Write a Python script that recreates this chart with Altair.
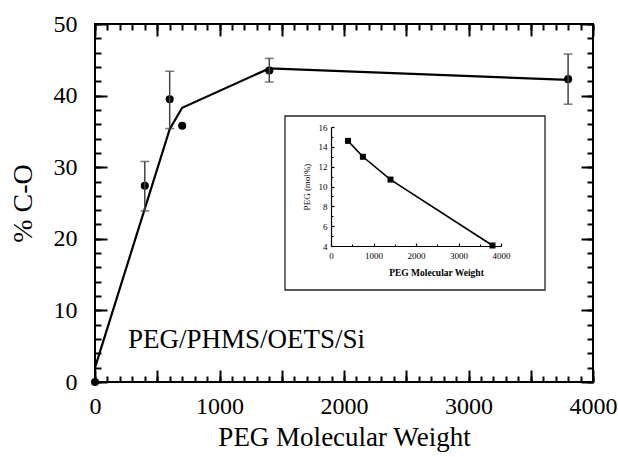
import altair as alt
import pandas as pd

# ---------------- data ----------------
mw_points = [0, 400, 600, 700, 1400, 3800]
co_points = [0.0, 27.4, 39.5, 35.8, 43.5, 42.3]

err_mw = [400, 600, 1400, 3800]
err_lo = [23.9, 35.4, 41.9, 38.8]
err_hi = [30.8, 43.4, 45.2, 45.8]

fit_mw = [0, 600, 700, 1400, 3800]
fit_co = [2.0, 35.3, 38.3, 43.8, 42.2]

inset_mw = [400, 750, 1400, 3800]
inset_peg = [14.6, 13.0, 10.7, 4.05]

x_labels = [0, 1000, 2000, 3000, 4000]
x_major = [0, 500, 1000, 1500, 2000, 2500, 3000, 3500, 4000]
x_minor = list(range(0, 4001, 100))
y_labels = [0, 10, 20, 30, 40, 50]
y_major = [0, 10, 20, 30, 40, 50]
y_minor = list(range(0, 51, 2))

in_x_labels = [0, 1000, 2000, 3000, 4000]
in_x_minor = [500, 1500, 2500, 3500]
in_y_labels = [4, 6, 8, 10, 12, 14, 16]
in_y_minor = [5, 7, 9, 11, 13, 15]

pts = pd.DataFrame({"mw": mw_points, "co": co_points})
errs = pd.DataFrame({"mw": err_mw, "lo": err_lo, "hi": err_hi})
fit = pd.DataFrame({"mw": fit_mw, "co": fit_co})
ins = pd.DataFrame({"mw": inset_mw, "peg": inset_peg})

W, H = 498, 358
FONT = "Liberation Serif"

# inset placement (pixels inside the plot area)
IN_X0, IN_X1 = 236, 406
IN_YB, IN_YT = 222, 103


def xs():
    return alt.Scale(domain=[0, 4000], nice=False, zero=False)


def ys():
    return alt.Scale(domain=[0, 50], nice=False, zero=False)


def ixs():
    return alt.Scale(domain=[0, 4000], range=[IN_X0, IN_X1], nice=False, zero=False)


def iys():
    return alt.Scale(domain=[4, 16], range=[IN_YB, IN_YT], nice=False, zero=False)


def tick_axis(orient, values, size, width=2.0, offset_extra=0):
    return alt.Axis(orient=orient, values=values, tickSize=size, offset=-(size + offset_extra),
                    labels=False, domain=False, grid=False, title=None,
                    tickWidth=width, tickColor="black", zindex=1)


ax_x_lab = alt.Axis(orient="bottom", values=x_labels, ticks=False, tickSize=0, domain=False,
                    grid=False, labelFontSize=24, labelFont=FONT, labelPadding=12,
                    labelFlush=False, labelColor="black", format="d", title="PEG Molecular Weight",
                    titleFont=FONT, titleFontSize=27, titleFontWeight="normal",
                    titlePadding=6, titleColor="black", zindex=1)
ax_y_lab = alt.Axis(orient="left", values=y_labels, ticks=False, tickSize=0, domain=False,
                    grid=False, labelFontSize=24, labelFont=FONT, labelPadding=18,
                    labelFlush=False, labelColor="black", format="d", title="% C-O",
                    titleFont=FONT, titleFontSize=28, titleFontWeight="normal",
                    titlePadding=16, titleColor="black", zindex=1)

fit_line = alt.Chart(fit).mark_line(color="black", strokeWidth=2.2).encode(
    x=alt.X("mw:Q", scale=xs(), axis=ax_x_lab),
    y=alt.Y("co:Q", scale=ys(), axis=ax_y_lab),
)

points = alt.Chart(pts).mark_circle(color="black", opacity=1, size=65).encode(
    x=alt.X("mw:Q", scale=xs(), axis=tick_axis("bottom", x_major, 12)),
    y=alt.Y("co:Q", scale=ys(), axis=tick_axis("left", y_major, 12)),
)

err_rules = alt.Chart(errs).mark_rule(color="#444444", strokeWidth=1.5).encode(
    x=alt.X("mw:Q", scale=xs(), axis=tick_axis("bottom", x_minor, 6)),
    y=alt.Y("lo:Q", scale=ys(), axis=tick_axis("left", y_minor, 6)),
    y2="hi:Q",
)

cap_top = alt.Chart(errs).mark_tick(color="#444444", orient="horizontal", size=9, thickness=1.5).encode(
    x=alt.X("mw:Q", scale=xs(), axis=tick_axis("top", x_major, 12)),
    y=alt.Y("hi:Q", scale=ys(), axis=tick_axis("right", y_major, 12)),
)

cap_bot = alt.Chart(errs).mark_tick(color="#444444", orient="horizontal", size=9, thickness=1.5).encode(
    x=alt.X("mw:Q", scale=xs(), axis=tick_axis("top", x_minor, 6)),
    y=alt.Y("lo:Q", scale=ys(), axis=tick_axis("right", y_minor, 6)),
)

label = alt.Chart(alt.Data(values=[{}])).mark_text(
    text="PEG/PHMS/OETS/Si", font=FONT, fontSize=27, align="left", baseline="middle", color="black"
).encode(x=alt.value(33), y=alt.value(316))

box = alt.Chart(alt.Data(values=[{}])).mark_rect(
    fill="white", stroke="#222222", strokeWidth=1.3
).encode(x=alt.value(190), x2=alt.value(450), y=alt.value(92), y2=alt.value(266))

in_ax_x = alt.Axis(orient="bottom", values=in_x_labels, ticks=False, tickSize=0, domain=True,
                   domainColor="black", domainWidth=1.2, offset=IN_YB - H, grid=False,
                   labelFontSize=9, labelFont=FONT, labelPadding=5, labelColor="black", format="d",
                   labelFlush=False,
                   title="PEG Molecular Weight", titleFont=FONT, titleFontSize=9.5,
                   titleFontWeight="bold", titlePadding=7, titleColor="black", titleX=341,
                   zindex=1)
in_ax_y = alt.Axis(orient="left", values=in_y_labels, ticks=False, tickSize=0, domain=True,
                   domainColor="black", domainWidth=1.2, offset=-IN_X0, grid=False,
                   labelFontSize=9, labelFont=FONT, labelPadding=4, labelColor="black", format="d",
                   labelFlush=False,
                   title="PEG (mol%)", titleFont=FONT, titleFontSize=9,
                   titleFontWeight="normal", titlePadding=7, titleColor="black", zindex=1)

in_line = alt.Chart(ins).mark_line(color="black", strokeWidth=1.6).encode(
    x=alt.X("mw:Q", scale=ixs(), axis=in_ax_x),
    y=alt.Y("peg:Q", scale=iys(), axis=in_ax_y),
)

in_pts = alt.Chart(ins).mark_square(color="black", opacity=1, size=36).encode(
    x=alt.X("mw:Q", scale=ixs(),
            axis=tick_axis("bottom", in_x_labels, 3, 1.2, offset_extra=H - IN_YB)),
    y=alt.Y("peg:Q", scale=iys(),
            axis=tick_axis("left", in_y_labels, 3, 1.2, offset_extra=IN_X0)),
)

in_minor = alt.Chart(ins).mark_point(opacity=0).encode(
    x=alt.X("mw:Q", scale=ixs(),
            axis=tick_axis("bottom", in_x_minor, 2, 1.0, offset_extra=H - IN_YB)),
    y=alt.Y("peg:Q", scale=iys(),
            axis=tick_axis("left", in_y_minor, 2, 1.0, offset_extra=IN_X0)),
)

chart = alt.layer(
    fit_line, points, err_rules, cap_top, cap_bot, label, box, in_line, in_pts, in_minor
).resolve_scale(
    x="independent", y="independent"
).resolve_axis(
    x="independent", y="independent"
).properties(
    width=W, height=H,
    padding={"left": 95, "top": 24, "right": 25, "bottom": 75},
    autosize=alt.AutoSizeParams(type="none"),
    background="white",
).configure_view(
    stroke="black", strokeWidth=2
)

chart.save("out.html", embed_options={"renderer": "svg", "actions": False})
